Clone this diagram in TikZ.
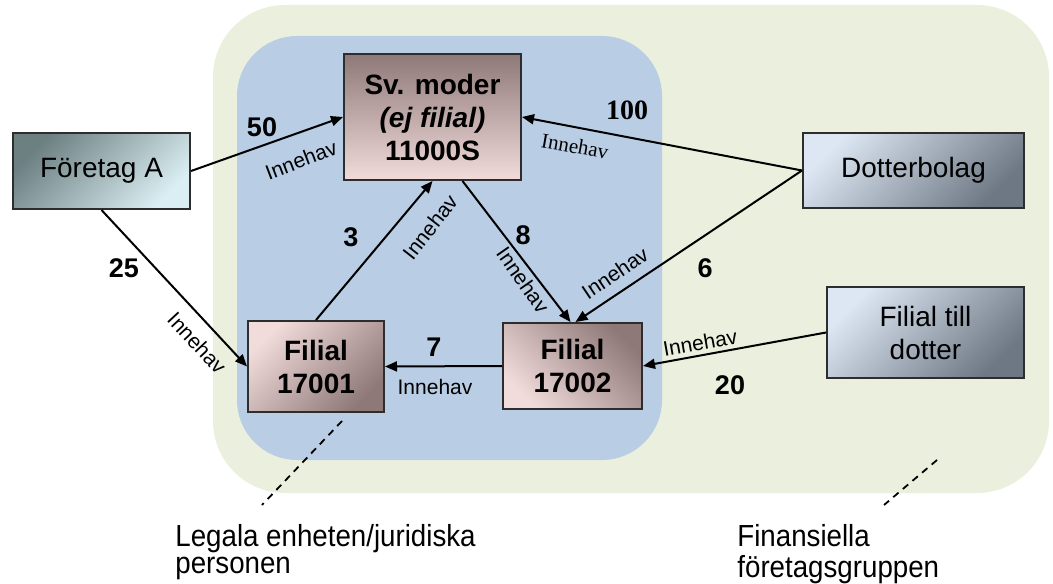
\documentclass[tikz,border=0pt]{standalone}
\usepackage{fontspec}
\setmainfont{Liberation Sans}
\newfontfamily\serifx{Liberation Serif}
\usetikzlibrary{arrows.meta}
\definecolor{greenbg}{RGB}{235,240,222}
\definecolor{bluebg}{RGB}{185,205,229}
\definecolor{boxline}{RGB}{45,45,45}
\definecolor{pinklight}{RGB}{242,220,219}
\definecolor{pinkdark}{RGB}{142,120,120}
\definecolor{tealdark}{RGB}{108,128,130}
\definecolor{teallight}{RGB}{218,238,243}
\definecolor{bluelight}{RGB}{220,231,243}
\definecolor{graydark}{RGB}{110,120,132}
\newcommand{\stretchnote}[1]{\scalebox{1}[1.1]{\fontsize{13.85}{12.2}\selectfont\begin{tabular}[t]{@{}l@{}}#1\end{tabular}}}
\begin{document}
\begin{tikzpicture}[x=0.5pt,y=-0.5pt,
  box/.style={draw=boxline, line width=1pt, inner sep=0pt, align=center,
    font=\fontsize{14}{16.5}\selectfont},
  bbox/.style={box, font=\bfseries\fontsize{14}{16.5}\selectfont},
  arr/.style={-{Triangle[length=6pt,width=5pt]}, line width=1pt},
  lbl/.style={font=\fontsize{10.5}{12}\selectfont, inner sep=0pt},
  slbl/.style={font=\serifx\fontsize{10.5}{12}\selectfont, inner sep=0pt},
  num/.style={font=\bfseries\fontsize{13.5}{15}\selectfont, inner sep=0pt},
  snum/.style={font=\serifx\bfseries\fontsize{14}{15}\selectfont, inner sep=0pt},
  dsh/.style={dash pattern=on 3.5pt off 2.8pt, line width=0.9pt},
  note/.style={inner sep=0pt, anchor=base west}
]
\useasboundingbox (0,0) rectangle (1053,583);
% backgrounds
\fill[greenbg, rounded corners=36pt] (213,5) rectangle (1049,493);
\fill[bluebg, rounded corners=30pt] (237,36) rectangle (662,460);
% nodes
\node[box, minimum width=88.5pt, minimum height=38pt,
  top color=tealdark, bottom color=teallight, shading angle=45] (fa) at (101.5,171) {Företag A};
\node[bbox, minimum width=88.5pt, minimum height=63pt,
  top color=pinkdark, bottom color=pinklight] (sv) at (432.5,117) {Sv. moder\\\textit{(ej filial)}\\11000S};
\node[bbox, minimum width=68pt, minimum height=45.5pt,
  top color=pinklight, bottom color=pinkdark, shading angle=45] (f1) at (316,366.5) {Filial\\17001};
\node[bbox, minimum width=69.5pt, minimum height=43pt,
  top color=pinkdark, bottom color=pinklight, shading angle=-45] (f2) at (572.5,366) {Filial\\17002};
\node[box, minimum width=110.5pt, minimum height=37.5pt,
  top color=bluelight, bottom color=graydark, shading angle=45] (db) at (913.5,170.5) {Dotterbolag};
\node[box, minimum width=98.5pt, minimum height=45.5pt,
  top color=bluelight, bottom color=graydark, shading angle=45] (fd) at (925.5,332.5) {Filial till\\dotter};
% connectors
\draw[arr] (fa.east) -- (sv.west);
\draw[arr] (fa.south) -- (f1.west);
\draw[arr] (f1.north) -- (sv.south);
\draw[arr] ([xshift=15pt]sv.south) -- ([xshift=-1pt]f2.north);
\draw[arr] (db.west) -- (sv.east);
\draw[arr] (db.west) -- ([xshift=1.5pt]f2.north);
\draw[arr] (f2.west) -- (f1.east);
\draw[arr] (fd.west) -- (f2.east);
% labels
\node[num] (n50) at (262,127) {50};
\node[lbl, rotate=21] (i50) at (301,160) {Innehav};
\node[num] (n25) at (124,268) {25};
\node[lbl, rotate=-47] (i25) at (197,343) {Innehav};
\node[num] (n3) at (351,237) {3};
\node[lbl, rotate=52] (i3) at (430,227) {Innehav};
\node[num] (n8) at (523,235) {8};
\node[lbl, rotate=-55] (i8) at (523,280) {Innehav};
\node[snum] (n100) at (627,110) {100};
\node[slbl, rotate=-10] (i100) at (575,146) {Innehav};
\node[num] (n6) at (705,268) {6};
\node[lbl, rotate=34] (i6) at (615,273) {Innehav};
\node[num] (n7) at (434,347) {7};
\node[lbl] (i7) at (435,387) {Innehav};
\node[lbl, rotate=10] (i20) at (700,343) {Innehav};
\node[num] (n20) at (730,385) {20};
% annotations
\coordinate (d1a) at (342,421);
\coordinate (d1b) at (262,505);
\coordinate (d2a) at (937,460);
\coordinate (d2b) at (884,505);
\draw[dsh] (d1a) -- (d1b);
\draw[dsh] (d2a) -- (d2b);
\node[note] (t1) at (175,546) {\stretchnote{Legala enheten/juridiska\\[0.5pt]personen}};
\node[note] (t2) at (737,546) {\stretchnote{Finansiella\\[0.5pt]företagsgruppen}};
\end{tikzpicture}
\end{document}
